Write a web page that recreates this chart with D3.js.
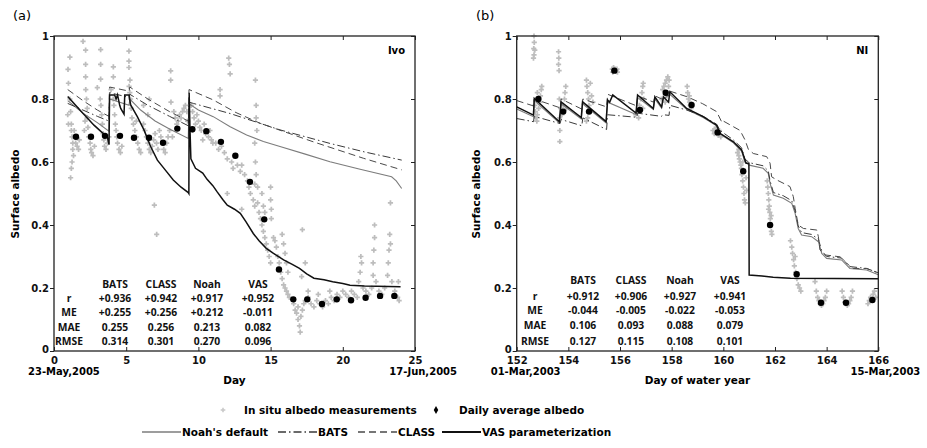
<!DOCTYPE html>
<html>
<head>
<meta charset="utf-8">
<script src="https://cdn.jsdelivr.net/npm/d3@7"></script>
<style>
body { margin: 0; background: #fff; }
svg { display: block; }
text { font-family: "DejaVu Sans", Verdana, sans-serif; }
.tbl text { font-family: "Open Sans", "Noto Sans", sans-serif; font-weight: 700; font-size: 10.3px; fill: #111; }
</style>
</head>
<body>
<svg id="chart" width="927" height="448"></svg>
<script>
// ---------- data: panel (a) Ivo, 23-May to 17-Jun 2005 ----------
var insituA = [
  [0.97,0.894],[1.1,0.933],[1.0,0.85],[1.1,0.80],[1.15,0.76],[1.2,0.72],[1.2,0.70],[1.25,0.68],[1.3,0.66],
  [1.3,0.64],[1.35,0.62],[1.25,0.60],[1.2,0.58],[1.15,0.55],[0.95,0.75],[1.0,0.72],[1.4,0.70],[1.5,0.66],
  [1.6,0.65],[1.7,0.64],[1.75,0.67],
  [2.01,0.983],[2.19,0.955],[2.19,0.91],[2.19,0.87],[2.2,0.83],[2.25,0.80],[2.3,0.77],[2.3,0.74],[2.35,0.71],
  [2.4,0.68],[2.5,0.66],[2.55,0.64],[2.6,0.63],[2.7,0.62],[2.8,0.65],[2.1,0.70],[2.15,0.73],
  [3.23,0.957],[3.23,0.91],[3.23,0.863],[3.0,0.836],[3.2,0.80],[3.25,0.78],[3.3,0.75],[3.35,0.72],[3.4,0.69],
  [3.45,0.67],[3.5,0.65],[3.6,0.64],[3.7,0.66],[3.8,0.68],
  [4.11,0.902],[4.11,0.87],[3.95,0.83],[4.1,0.80],[4.15,0.78],[4.2,0.75],[4.25,0.72],[4.3,0.70],[4.35,0.68],
  [4.4,0.66],[4.5,0.64],[4.6,0.63],[4.7,0.65],
  [5.19,0.952],[5.19,0.92],[5.19,0.90],[5.26,0.86],[5.2,0.84],[5.25,0.82],[5.3,0.80],[5.35,0.77],[5.4,0.74],
  [5.5,0.72],[5.6,0.70],[5.7,0.68],[5.8,0.66],[5.9,0.64],[6.0,0.63],
  [6.2,0.72],[6.3,0.70],[6.4,0.68],[6.5,0.66],[6.6,0.64],[6.7,0.63],[6.8,0.65],[6.9,0.67],[7.0,0.69],
  [7.1,0.66],[7.2,0.64],[7.3,0.70],[7.4,0.68],[7.5,0.66],[7.6,0.64],[7.7,0.63],[7.8,0.66],[7.9,0.68],
  [6.95,0.463],[7.11,0.37],[6.5,0.75],[5.7,0.73],[6.6,0.80],[6.2,0.78],
  [8.08,0.889],[8.08,0.86],[8.1,0.79],[8.3,0.76],[8.4,0.74],[8.5,0.72],[8.6,0.73],[8.7,0.75],[8.8,0.74],
  [8.9,0.76],[9.0,0.77],[9.1,0.78],[9.2,0.76],[9.25,0.73],[8.0,0.70],[8.2,0.68],
  [9.5,0.78],[9.6,0.76],[9.7,0.74],[9.8,0.72],[9.9,0.75],[10.0,0.73],[10.1,0.71],[10.2,0.70],[10.4,0.72],
  [10.5,0.69],[10.7,0.68],[10.8,0.70],[10.9,0.67],[11.0,0.66],[9.6,0.70],[10.3,0.67],[11.5,0.83],[11.5,0.81],
  [11.2,0.66],[11.4,0.64],[11.6,0.65],[11.8,0.63],[12.0,0.61],[12.1,0.93],[12.15,0.91],[12.2,0.88],
  [12.3,0.60],[12.4,0.58],[12.5,0.62],[12.7,0.59],[12.9,0.57],[13.0,0.59],[13.2,0.56],[13.4,0.54],
  [13.5,0.52],[13.6,0.50],[12.0,0.50],[13.0,0.45],
  [13.95,0.86],[14.0,0.78],[14.0,0.74],[14.05,0.70],[13.9,0.66],[13.95,0.60],[14.0,0.56],[14.1,0.52],[13.9,0.53],
  [13.8,0.48],[13.9,0.46],[14.1,0.47],[14.2,0.44],[14.3,0.42],[14.4,0.40],[14.5,0.38],[14.6,0.36],
  [14.7,0.34],[14.8,0.32],[14.9,0.30],[15.0,0.28],[14.4,0.50],[14.5,0.46],[14.6,0.44],
  [15.0,0.52],[15.0,0.48],[15.05,0.45],[15.05,0.42],
  [15.2,0.36],[15.3,0.35],[15.4,0.33],[15.5,0.30],[15.6,0.28],[15.7,0.25],[15.8,0.23],[15.9,0.21],
  [16.0,0.20],[16.1,0.19],[16.2,0.18],[16.3,0.17],[15.8,0.37],[15.9,0.34],[16.0,0.31],[16.1,0.28],[16.2,0.25],
  [16.6,0.15],[16.7,0.13],[16.8,0.12],[16.9,0.10],[17.0,0.08],[17.05,0.06],[17.1,0.11],[17.2,0.13],
  [17.3,0.15],[17.2,0.385],[16.9,0.14],[17.15,0.236],
  [17.4,0.16],[17.6,0.17],[17.8,0.15],[18.0,0.14],[18.2,0.16],[18.4,0.15],[18.6,0.14],[18.8,0.16],
  [19.0,0.15],[19.2,0.17],[19.4,0.16],[19.6,0.18],[19.8,0.17],[20.0,0.19],[20.2,0.18],[20.4,0.17],
  [17.6,0.19],[18.3,0.18],[19.1,0.19],[17.4,0.28],
  [20.6,0.19],[20.8,0.18],[21.0,0.17],[21.1,0.22],[21.2,0.25],[21.3,0.28],[21.25,0.30],[21.4,0.20],
  [21.6,0.19],[21.8,0.18],[22.0,0.20],[22.1,0.24],[22.1,0.28],[22.15,0.32],[22.2,0.36],[22.2,0.40],
  [22.3,0.22],[22.5,0.19],[22.7,0.18],[22.9,0.20],[23.1,0.24],[23.15,0.28],[23.2,0.32],[23.25,0.37],
  [23.3,0.47],[23.3,0.34],[23.4,0.22],[23.6,0.19],[23.8,0.17],[23.9,0.16],[23.85,0.22]
];
var avgDayA = [1.52,2.56,3.53,4.57,5.54,6.58,7.55,8.54,9.58,10.55,11.56,12.56,13.57,14.56,15.58,16.57,17.54,18.56,19.58,20.57,21.58,22.58,23.57];
var avgValA = [0.680,0.680,0.683,0.683,0.677,0.677,0.661,0.706,0.704,0.698,0.664,0.620,0.537,0.418,0.259,0.164,0.164,0.149,0.164,0.161,0.169,0.175,0.175];

var noahA = [[0.95,0.795],[2.0,0.755],[3.0,0.725],[3.8,0.698],[3.85,0.80],[5.2,0.78],[5.25,0.80],[6.0,0.765],
  [7.0,0.73],[8.0,0.705],[9.3,0.675],[9.35,0.785],[10.0,0.765],[11.03,0.744],[12.2,0.712],[13.34,0.686],
  [14.5,0.665],[15.65,0.649],[17.4,0.625],[19.11,0.601],[21.2,0.577],[23.38,0.553],[23.7,0.54],[24.08,0.516]];
var batsA = [[0.95,0.786],[2.0,0.765],[3.0,0.745],[3.8,0.73],[3.85,0.82],[5.2,0.805],[5.25,0.815],[6.5,0.78],
  [8.0,0.745],[9.3,0.715],[9.35,0.79],[9.65,0.786],[12.19,0.754],[15.65,0.702],[19.11,0.659],[21.5,0.632],[24.08,0.606]];
var classA = [[0.95,0.830],[2.0,0.795],[3.0,0.765],[3.8,0.745],[3.85,0.838],[5.2,0.825],[5.25,0.838],[6.5,0.80],
  [8.0,0.76],[9.3,0.73],[9.35,0.830],[11.03,0.797],[12.6,0.757],[14.27,0.723],[17.96,0.664],[21.42,0.612],[24.08,0.575]];
var vasA = [[0.95,0.808],[2.0,0.755],[2.77,0.717],[3.3,0.695],[3.69,0.680],[3.81,0.655],[3.85,0.813],[4.2,0.813],
  [4.3,0.80],[4.4,0.813],[4.55,0.78],[4.62,0.770],[4.85,0.752],[4.9,0.813],[5.19,0.813],[5.31,0.781],
  [5.77,0.744],[6.23,0.702],[6.69,0.649],[7.16,0.606],[7.7,0.575],[8.26,0.543],[8.8,0.52],[9.3,0.503],
  [9.34,0.50],[9.36,0.82],[9.42,0.70],[9.48,0.61],[9.8,0.58],[10.3,0.565],[10.6,0.545],[11.0,0.525],
  [11.3,0.505],[11.7,0.48],[12.0,0.463],[12.5,0.45],[12.9,0.437],[13.3,0.41],[13.8,0.373],[14.2,0.35],
  [14.7,0.326],[15.2,0.31],[15.9,0.289],[16.5,0.275],[17.0,0.262],[17.5,0.245],[18.0,0.231],[18.7,0.226],
  [19.3,0.22],[20.0,0.214],[20.5,0.209],[21.5,0.206],[24.0,0.204]];

// ---------- data: panel (b) NI, 01-Mar to 15-Mar 2003 ----------
var insituB = [
  [152.67,1.0],[152.68,0.98],[152.66,0.96],[152.7,0.955],[152.67,0.94],[152.65,0.93],
  [152.7,0.78],[152.72,0.76],[152.75,0.74],[152.78,0.73],[152.8,0.75],[152.85,0.77],[152.9,0.79],
  [152.92,0.81],[152.95,0.83],[152.97,0.84],[152.8,0.82],
  [153.62,0.95],[153.63,0.93],[153.62,0.91],[153.64,0.89],[153.65,0.80],[153.66,0.74],[153.67,0.70],
  [153.67,0.665],[153.75,0.75],[153.8,0.78],[153.85,0.80],[153.87,0.82],[153.9,0.84],[153.92,0.77],[153.7,0.77],
  [154.7,0.86],[154.72,0.84],[154.75,0.82],[154.78,0.80],[154.8,0.78],[154.85,0.76],[154.9,0.81],
  [154.95,0.79],[154.75,0.74],[154.7,0.73],[154.85,0.85],
  [155.7,0.895],[155.75,0.90],[155.8,0.895],[155.85,0.89],[155.9,0.885],[155.72,0.885],[155.88,0.895],
  [156.7,0.76],[156.72,0.74],[156.75,0.78],[156.8,0.80],[156.85,0.82],[156.88,0.84],[156.9,0.85],
  [156.92,0.80],[156.88,0.77],[156.6,0.75],
  [157.6,0.80],[157.65,0.83],[157.7,0.84],[157.75,0.85],[157.8,0.86],[157.85,0.87],[157.9,0.86],
  [157.88,0.84],[157.75,0.79],[157.82,0.81],
  [158.6,0.84],[158.62,0.82],[158.65,0.80],[158.7,0.79],[158.72,0.78],[158.68,0.81],[158.75,0.77],
  [159.6,0.70],[159.65,0.69],[159.7,0.705],[159.75,0.69],[159.8,0.685],[159.85,0.70],[159.9,0.68],[159.72,0.71],
  [160.55,0.63],[160.6,0.62],[160.62,0.61],[160.65,0.60],[160.68,0.59],[160.7,0.58],[160.72,0.56],
  [160.75,0.54],[160.78,0.52],[160.8,0.50],[160.82,0.48],[160.85,0.47],[160.6,0.64],[160.75,0.60],
  [160.88,0.55],[160.9,0.51],
  [161.7,0.54],[161.72,0.52],[161.74,0.50],[161.76,0.48],[161.78,0.46],[161.8,0.44],[161.82,0.42],
  [161.84,0.40],[161.86,0.38],[161.88,0.37],[161.75,0.45],[161.85,0.43],
  [162.6,0.35],[162.65,0.33],[162.68,0.31],[162.72,0.29],[162.75,0.27],[162.8,0.25],[162.85,0.23],
  [162.9,0.21],[162.95,0.20],[163.0,0.19],[162.78,0.30],
  [163.6,0.19],[163.65,0.17],[163.7,0.16],[163.75,0.15],[163.8,0.145],[163.85,0.15],[163.9,0.16],
  [163.95,0.17],[164.0,0.19],[163.55,0.22],
  [164.6,0.19],[164.65,0.17],[164.7,0.155],[164.75,0.15],[164.8,0.145],[164.85,0.15],[164.9,0.16],
  [164.95,0.17],[165.0,0.19],
  [165.6,0.15],[165.65,0.16],[165.7,0.17],[165.8,0.18],[165.85,0.19],[165.9,0.17]
];
var avgDayB = [152.84,153.80,154.80,155.78,156.77,157.77,158.77,159.78,160.77,161.81,162.84,163.78,164.75,165.77];
var avgValB = [0.800,0.760,0.760,0.890,0.765,0.820,0.781,0.694,0.571,0.400,0.244,0.153,0.153,0.162];

var vasB = [[152,0.775],[152.65,0.749],[152.68,0.802],[153.65,0.728],[153.72,0.791],[154.5,0.741],[154.55,0.791],
  [155.46,0.728],[155.52,0.797],[155.6,0.79],[155.72,0.813],[156.62,0.755],[156.68,0.813],[157.29,0.77],
  [157.35,0.807],[157.61,0.775],[157.68,0.807],[157.88,0.79],[157.93,0.823],[158.58,0.77],[159.22,0.744],
  [159.74,0.717],[159.87,0.691],[160.39,0.664],[160.71,0.638],[160.88,0.596],[160.99,0.596],[161.0,0.241],
  [161.5,0.238],[161.93,0.234],[162.6,0.231],[166,0.229]];
var noahB = [[152,0.768],[152.65,0.744],[152.68,0.795],[153.65,0.724],[153.72,0.785],[154.5,0.737],[154.55,0.785],
  [155.46,0.724],[155.52,0.79],[156.62,0.751],[156.68,0.805],[157.29,0.767],[157.35,0.80],[157.61,0.771],
  [157.68,0.80],[157.93,0.815],[158.58,0.767],[159.22,0.741],[159.74,0.715],[159.87,0.689],[160.39,0.661],
  [160.71,0.634],[160.83,0.601],[161.0,0.59],[161.54,0.58],[161.74,0.564],[161.81,0.532],[161.94,0.495],
  [162.32,0.485],[162.65,0.469],[162.78,0.437],[162.9,0.389],[163.03,0.368],[163.42,0.363],[163.68,0.347],
  [163.81,0.31],[164.0,0.294],[164.58,0.289],[164.9,0.262],[165.55,0.257],[166,0.242]];
var batsB = [[152,0.738],[152.65,0.728],[152.68,0.745],[153.68,0.722],[153.72,0.735],[154.52,0.715],[154.56,0.74],
  [155.48,0.703],[155.52,0.75],[156.65,0.742],[156.68,0.755],[157.6,0.745],[157.68,0.75],[157.9,0.748],
  [157.93,0.78],[158.58,0.765],[159.22,0.745],[159.74,0.72],[159.87,0.70],[160.39,0.67],[160.71,0.645],
  [160.83,0.61],[161.0,0.598],[161.54,0.588],[161.74,0.572],[161.81,0.54],[161.94,0.503],[162.32,0.493],
  [162.65,0.477],[162.78,0.445],[162.9,0.397],[163.03,0.376],[163.42,0.37],[163.68,0.355],[163.81,0.318],
  [164.0,0.30],[164.58,0.295],[164.9,0.268],[165.55,0.262],[166,0.248]];
var classB = [[152,0.795],[152.65,0.778],[152.68,0.80],[153.68,0.772],[153.72,0.80],[154.52,0.768],[154.56,0.80],
  [155.48,0.775],[155.52,0.815],[156.65,0.778],[156.68,0.81],[157.3,0.79],[157.35,0.81],[157.62,0.80],
  [157.68,0.815],[157.9,0.81],[157.93,0.825],[158.6,0.807],[159.2,0.785],[159.74,0.76],[159.95,0.725],
  [160.0,0.73],[160.65,0.70],[160.84,0.67],[160.97,0.64],[161.16,0.627],[161.68,0.617],[161.81,0.596],
  [161.87,0.553],[162.07,0.543],[162.58,0.522],[162.71,0.49],[162.78,0.453],[162.9,0.40],[163.1,0.389],
  [163.62,0.384],[163.68,0.363],[163.74,0.321],[163.94,0.305],[164.52,0.299],[164.78,0.278],[165.03,0.262],
  [165.55,0.262],[166,0.248]];

// ---------- statistics tables ----------
var models = ["BATS", "CLASS", "Noah", "VAS"];
var stats = ["r", "ME", "MAE", "RMSE"];
var statsA = [["+0.936","+0.942","+0.917","+0.952"],["+0.255","+0.256","+0.212","-0.011"],
              ["0.255","0.256","0.213","0.082"],["0.314","0.301","0.270","0.096"]];
var statsB = [["+0.912","+0.906","+0.927","+0.941"],["-0.044","-0.005","-0.022","-0.053"],
              ["0.106","0.093","0.088","0.079"],["0.127","0.115","0.108","0.101"]];

var yTicks = [0, 0.2, 0.4, 0.6, 0.8, 1];
var xTicksA = [0, 5, 10, 15, 20, 25];
var xTicksB = [152, 154, 156, 158, 160, 162, 164, 166];

// line styles
var styles = {
  noah:  { stroke: "#7c7c7c", width: 1.1, dash: null },
  bats:  { stroke: "#3a3a3a", width: 1, dash: "8,3,1.5,3" },
  clas:  { stroke: "#4a4a4a", width: 1, dash: "7,4" },
  vas:   { stroke: "#111", width: 1.5, dash: null }
};

var svg = d3.select("#chart");
svg.append("rect").attr("width", 927).attr("height", 448).attr("fill", "#fff");

function drawPanel(p) {
  var x = d3.scaleLinear().domain(p.xDomain).range([p.x0, p.x1]);
  var y = d3.scaleLinear().domain([0, 1]).range([351, 36]);
  var g = svg.append("g");

  // scatter of in situ measurements
  g.append("g").selectAll("path")
    .data(p.insitu)
    .enter()
    .append("path")
    .attr("d", d3.symbol().type(d3.symbolCross).size(15))
    .attr("transform", d => "translate(" + x(d[0]) + "," + y(d[1]) + ")")
    .attr("fill", "#bdbdbd");

  // model lines
  var line = d3.line().x(d => x(d[0])).y(d => y(d[1]));
  p.lines.forEach(function(l) {
    var s = styles[l.style];
    g.append("path")
      .datum(l.data)
      .attr("d", line)
      .attr("fill", "none")
      .attr("stroke", s.stroke)
      .attr("stroke-width", s.width)
      .attr("stroke-dasharray", s.dash);
  });

  // daily averages
  g.append("g").selectAll("circle")
    .data(p.avgDay)
    .enter()
    .append("circle")
    .attr("cx", d => x(d))
    .attr("cy", (d, i) => y(p.avgVal[i]))
    .attr("r", 3.2)
    .attr("fill", "#000");

  // axes
  var fmt = d3.format("~g");
  var left = g.append("g").attr("transform", "translate(" + p.x0 + ",0)")
    .call(d3.axisLeft(y).tickValues(yTicks).tickSize(4).tickPadding(1).tickFormat(fmt));
  g.append("g").attr("transform", "translate(" + p.x1 + ",0)")
    .call(d3.axisRight(y).tickValues(yTicks).tickSize(-4).tickFormat(""));
  var bottom = g.append("g").attr("transform", "translate(0,351)")
    .call(d3.axisBottom(x).tickValues(p.xTicks).tickSize(-4).tickPadding(6).tickFormat(fmt));
  g.append("g").attr("transform", "translate(0,36)")
    .call(d3.axisTop(x).tickValues(p.xTicks).tickSize(-4).tickFormat(""));
  g.selectAll(".domain").remove();
  g.selectAll(".tick line").attr("stroke", "#222");
  left.selectAll("text").attr("font-size", 10).attr("font-weight", "bold").attr("fill", "#111")
    .attr("font-family", "DejaVu Sans");
  left.selectAll(".tick").filter(d => d === 0).select("text").attr("dy", "0.1em");
  bottom.selectAll("text").attr("font-size", 10).attr("font-weight", "bold").attr("fill", "#111")
    .attr("font-family", "DejaVu Sans");

  g.append("rect")
    .attr("x", p.x0).attr("y", 36)
    .attr("width", p.x1 - p.x0).attr("height", 315)
    .attr("fill", "none").attr("stroke", "#222").attr("stroke-width", 1.3);

  // date labels under end ticks
  g.append("text").attr("x", x(p.xDomain[0]) - 26).attr("y", 375)
    .attr("font-size", 10).attr("font-weight", "bold").text(p.dateStart);
  g.append("text").attr("x", x(p.xDomain[1]) + 42).attr("y", 375)
    .attr("text-anchor", "end").attr("font-size", 10).attr("font-weight", "bold").text(p.dateEnd);

  // axis titles
  g.append("text").attr("x", (p.x0 + p.x1) / 2).attr("y", 384)
    .attr("text-anchor", "middle").attr("font-size", 10.5).attr("font-weight", "bold").text(p.xTitle);
  g.append("text")
    .attr("transform", "translate(" + p.yTitleX + ",194) rotate(-90)")
    .attr("text-anchor", "middle").attr("font-size", 10.5).attr("font-weight", "bold")
    .text("Surface albedo");

  // panel letter and site
  g.append("text").attr("x", p.letterX).attr("y", 20).attr("font-size", 13).text(p.letter);
  g.append("text").attr("x", p.x1 - 10).attr("y", 54).attr("text-anchor", "end")
    .attr("font-size", 10).attr("font-weight", "bold").text(p.site);

  // statistics table
  var tbl = g.append("g").attr("class", "tbl");
  tbl.selectAll(".hd").data(models).enter().append("text")
    .attr("x", (d, i) => p.colX[i]).attr("y", p.rowY[0]).attr("dy", "0.35em")
    .attr("text-anchor", "middle").text(d => d);
  stats.forEach(function(s, r) {
    tbl.append("text").attr("x", p.labelX).attr("y", p.rowY[r + 1]).attr("dy", "0.35em")
      .attr("text-anchor", "middle").text(s);
    tbl.selectAll(".c" + r).data(p.stats[r]).enter().append("text")
      .attr("x", (d, i) => p.colX[i]).attr("y", p.rowY[r + 1]).attr("dy", "0.35em")
      .attr("text-anchor", "middle").text(d => d);
  });
}

drawPanel({
  xDomain: [0, 25], x0: 54, x1: 415, xTicks: xTicksA,
  insitu: insituA, avgDay: avgDayA, avgVal: avgValA,
  lines: [{ style: "noah", data: noahA }, { style: "bats", data: batsA },
          { style: "clas", data: classA }, { style: "vas", data: vasA }],
  dateStart: "23-May,2005", dateEnd: "17-Jun,2005", xTitle: "Day",
  yTitleX: 19, letter: "(a)", letterX: 13, site: "Ivo",
  stats: statsA, labelX: 69, colX: [115, 161, 207, 258], rowY: [284, 298, 312.5, 327, 341.5]
});

drawPanel({
  xDomain: [152, 166], x0: 516.7, x1: 878.3, xTicks: xTicksB,
  insitu: insituB, avgDay: avgDayB, avgVal: avgValB,
  lines: [{ style: "noah", data: noahB }, { style: "bats", data: batsB },
          { style: "clas", data: classB }, { style: "vas", data: vasB }],
  dateStart: "01-Mar,2003", dateEnd: "15-Mar,2003", xTitle: "Day of water year",
  yTitleX: 480, letter: "(b)", letterX: 476, site: "NI",
  stats: statsB, labelX: 535, colX: [583, 631, 680, 730], rowY: [280, 296, 310.7, 325.7, 341]
});

// ---------- legend ----------
var lg = svg.append("g").attr("font-size", 10.5).attr("font-weight", "bold");
lg.append("path").attr("d", d3.symbol().type(d3.symbolCross).size(12)).attr("fill", "#c8c8c8")
  .attr("transform", "translate(223,410)");
lg.append("text").attr("x", 244).attr("y", 414).text("In situ albedo measurements");
lg.append("path").attr("d", d3.symbol().type(d3.symbolDiamond).size(18)).attr("fill", "#000")
  .attr("transform", "translate(436,410)");
lg.append("text").attr("x", 459).attr("y", 414).text("Daily average albedo");

var legendLines = [
  { style: "noah", x: 142, label: "Noah's default" },
  { style: "bats", x: 278, label: "BATS" },
  { style: "clas", x: 358, label: "CLASS" },
  { style: "vas", x: 442, label: "VAS parameterization" }
];
legendLines.forEach(function(l) {
  var s = styles[l.style];
  lg.append("line").attr("x1", l.x).attr("x2", l.x + 39).attr("y1", 432).attr("y2", 432)
    .attr("stroke", s.stroke).attr("stroke-width", s.width + 0.3).attr("stroke-dasharray", s.dash);
  lg.append("text").attr("x", l.x + 40).attr("y", 436).text(l.label);
});
</script>
</body>
</html>
